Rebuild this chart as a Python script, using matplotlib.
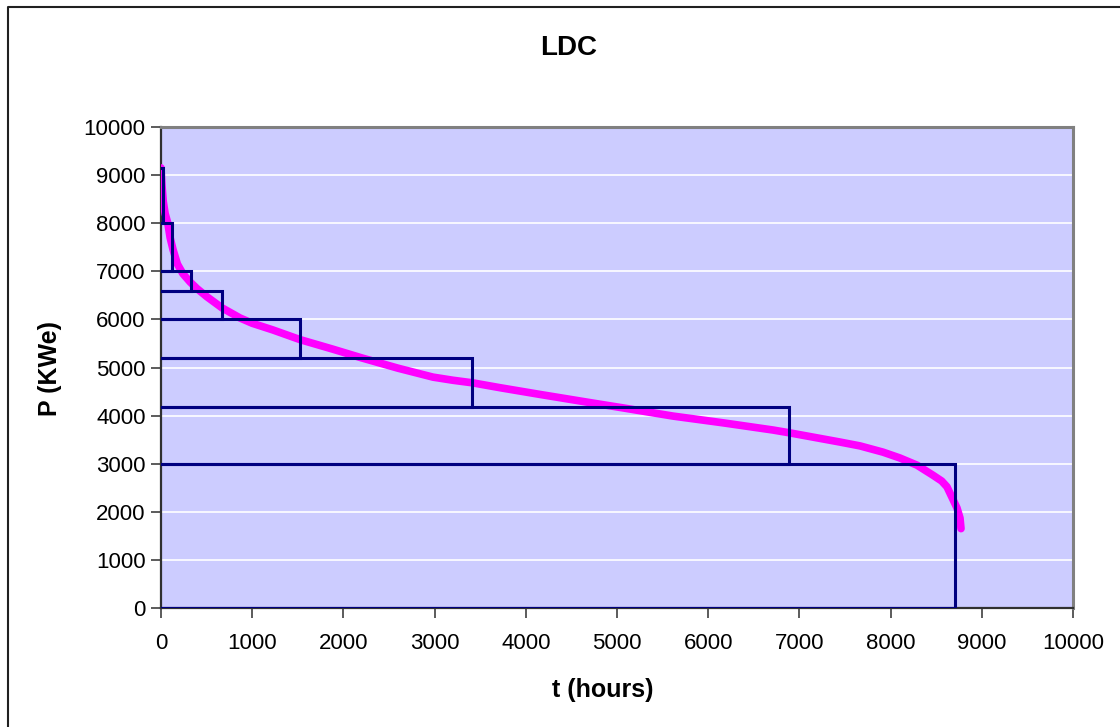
import matplotlib
matplotlib.use("Agg")
import matplotlib.pyplot as plt
from matplotlib.lines import Line2D

# ---- data ----
ldc_hours = [0, 10, 25, 45, 75, 100, 132, 180, 240, 318, 395, 504, 669, 866, 1000,
             1228, 1524, 1886, 2200, 2600, 2982, 3200, 3421, 3717, 4156, 4704, 5066,
             5614, 6162, 6711, 6897, 7445, 7664, 7917, 8100, 8289, 8465, 8560, 8618,
             8673, 8728, 8761, 8772]
ldc_power = [9150, 8800, 8450, 8200, 8000, 7700, 7450, 7150, 6950, 6780, 6640, 6470,
             6240, 6030, 5920, 5780, 5580, 5380, 5200, 4985, 4800, 4735, 4680, 4580,
             4440, 4270, 4160, 3990, 3850, 3700, 3640, 3450, 3370, 3240, 3120, 2970,
             2760, 2640, 2520, 2300, 2080, 1870, 1650]

step_hours = [20, 120, 330, 670, 1525, 3410, 6885, 8705]
step_levels = [9150, 8000, 7000, 6600, 6000, 5200, 4180, 3000, 0]

x_ticks = [0, 1000, 2000, 3000, 4000, 5000, 6000, 7000, 8000, 9000, 10000]
y_ticks = [0, 1000, 2000, 3000, 4000, 5000, 6000, 7000, 8000, 9000, 10000]

title = "LDC"
x_label = "t (hours)"
y_label = "P (KWe)"

# ---- figure ----
plt.rcParams['font.family'] = ['Liberation Sans', 'DejaVu Sans']
fig = plt.figure(figsize=(11.2, 7.27), dpi=100)
W, H = 1120, 727
ax = fig.add_axes([161 / W, 1 - 608 / H, (1073 - 161) / W, (608 - 127) / H])
ax.set_facecolor('#CCCCFF')

for y in y_ticks[1:-1]:
    ax.axhline(y, color='white', lw=1.2, zorder=1)

# rectangles (step blocks)
for i, t in enumerate(step_hours):
    top = step_levels[i]
    bot = step_levels[i + 1]
    xs = [0, t, t, 0]
    ys = [top, top, bot, bot]
    ax.plot(xs, ys, color='#000080', lw=2.2, zorder=4, solid_joinstyle='miter')

ax.plot(ldc_hours, ldc_power, color='#FF00FF', lw=5.5, zorder=3,
        solid_capstyle='round', solid_joinstyle='round')

ax.set_xlim(0, 10000)
ax.set_ylim(0, 10000)
ax.set_xticks(x_ticks)
ax.set_yticks(y_ticks)
ax.tick_params(axis='both', direction='out', length=7, width=1.2, color='#404040',
               labelsize=16, pad=4)
ax.tick_params(axis='x', pad=11)

for s in ['left', 'bottom']:
    ax.spines[s].set_color('#303030')
    ax.spines[s].set_linewidth(1.6)
for s in ['top', 'right']:
    ax.spines[s].set_color('#808080')
    ax.spines[s].set_linewidth(2.2)

fig.text(569 / W, 1 - 48 / H, title, ha='center', va='center', fontsize=20,
         fontweight='bold')
fig.text(603 / W, 1 - 690 / H, x_label, ha='center', va='center', fontsize=18,
         fontweight='bold')
fig.text(50 / W, 1 - 368 / H, y_label, ha='center', va='center', fontsize=18,
         fontweight='bold', rotation=90)

# outer chart border (left and top)
fig.add_artist(Line2D([8 / W, 8 / W, 1], [0, 1 - 7 / H, 1 - 7 / H],
                      transform=fig.transFigure, color='#202020', lw=1.5))

fig.savefig('out.png', dpi=100)
